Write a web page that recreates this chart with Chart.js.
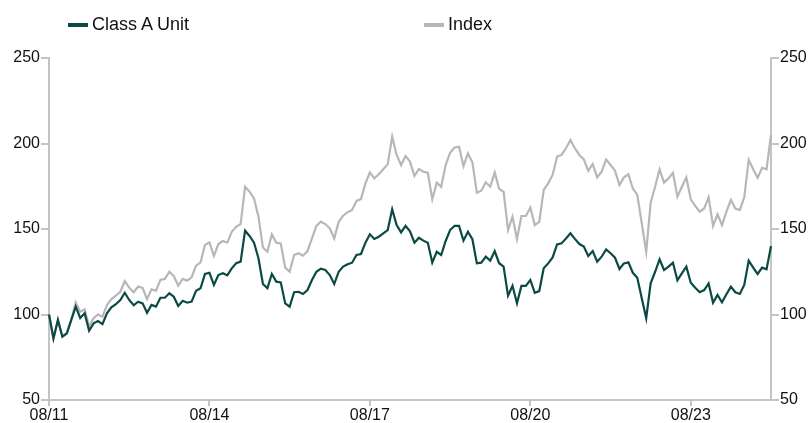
<!DOCTYPE html>
<html>
<head>
<meta charset="utf-8">
<script src="https://cdn.jsdelivr.net/npm/chart.js@4/dist/chart.umd.min.js"></script>
<style>
  html, body { margin: 0; padding: 0; background: #fff; }
  #wrap { position: relative; width: 808px; height: 423px; overflow: hidden; }
  #legend { position: absolute; top: 14px; left: 0; width: 808px; height: 26px;
            font-family: "Liberation Sans", Arial, sans-serif; font-size: 18px; color: #111; }
  .item { position: absolute; top: 0; display: flex; align-items: center; white-space: nowrap; }
  .swatch { display: inline-block; width: 20px; height: 4px; margin-right: 4px; }
</style>
</head>
<body>
<div id="wrap">
  <canvas id="c" width="808" height="423"></canvas>
  <div id="legend"></div>
</div>
<script>
const seriesNames = ['Class A Unit', 'Index'];
const seriesColors = ['#0b4a44', '#b7b7b7'];
const tickLabels = ['08/11', '08/14', '08/17', '08/20', '08/23'];
const startYear = 2011, startMonth = 8, monthCount = 163;

const classA = [
  100, 86, 96.8, 87, 89, 96.8, 104.6, 98, 100.7, 90.5,
  94.8, 96.2, 94.4, 100.7, 104.2, 106, 108.5, 112.7, 108.5, 105.4,
  107.5, 106.5, 101, 105.6, 104.6, 109.8, 109.8, 112.4, 110.4, 105,
  108, 106.9, 107.5, 113.9, 115.3, 123.7, 124.4, 117.3, 123.1, 124.1,
  122.9, 127, 130, 130.9, 149, 145.9, 142, 132.9, 117.8, 115.3,
  123.7, 119.2, 118.8, 106.5, 104.6, 113, 113.3, 112, 114.3, 120.2,
  125, 126.8, 126, 123.1, 117.8, 125, 128, 129.4, 130.3, 134.8,
  135.4, 142, 146.9, 144.2, 145.5, 147.5, 149.4, 161.5, 152.3, 148,
  151.8, 148.6, 142, 144.9, 143.2, 142, 130.3, 136.7, 134.8, 143,
  149.4, 151.8, 151.8, 143.2, 148.4, 144, 129.9, 130.3, 133.8, 131.5,
  137.1, 130, 128, 111, 116.8, 106.5, 116.7, 116.7, 120.2, 112.7,
  113.7, 127, 129.9, 133.4, 141, 141.6, 144.5, 147.5, 144.2, 141.2,
  139.7, 134.2, 137.1, 130.9, 133.8, 138.1, 135.8, 133.2, 126.6, 129.9,
  130.5, 124.4, 121.5, 109.5, 97.8, 118.2, 125, 132.3, 126, 128,
  130.3, 120, 124.1, 128, 118.6, 115.7, 113, 114.3, 118.2, 106.9,
  111.4, 107.1, 111.8, 116.3, 113, 112, 117.3, 131.5, 127.4, 123.7,
  127.4, 126.4, 140
];

const indexSeries = [
  100, 86, 96.8, 87, 89, 97, 107, 101.6, 103, 93,
  97.8, 100, 98.7, 105.6, 109, 111, 113.3, 119.6, 115.7, 113,
  116.3, 115.5, 109, 114.7, 113.9, 120.2, 120.8, 125, 122.5, 116.8,
  120.8, 119.8, 121.8, 128.6, 130.5, 140.6, 142.2, 134.2, 141.2, 143,
  142, 148.4, 151.3, 152.9, 174.7, 171.8, 167.9, 157.2, 139.2, 136.7,
  146.9, 142, 141.6, 127.4, 125, 134.8, 135.8, 134.4, 137.1, 144.5,
  151.8, 154.3, 152.9, 150.4, 144.5, 154.2, 157.8, 159.8, 161.1, 166.4,
  167.5, 176.7, 183.1, 179.6, 182, 184.9, 187.8, 204, 193.3, 187.4,
  192.7, 189.4, 181, 185.1, 183.5, 182.9, 167.5, 177.1, 174.7, 187.4,
  194.6, 197.7, 198.1, 186.8, 194.2, 189, 171.2, 172.4, 177.3, 174.7,
  183.1, 173.5, 171.8, 149.4, 157.2, 144, 157.6, 157.6, 162.6, 152.3,
  154.2, 172.8, 176.7, 181.6, 192.3, 193.3, 197.2, 202, 197.2, 193.3,
  190.7, 184, 188, 180.2, 183.5, 190.7, 187.4, 184.1, 175.7, 180.2,
  182, 173.7, 169.9, 153.3, 136.7, 165.4, 174.7, 184.9, 177.1, 179.6,
  182.9, 168.9, 174.7, 180.2, 167.3, 163.5, 160.1, 162, 168.5, 151.8,
  158.6, 152.3, 160.1, 167, 162, 161.1, 168.5, 190.4, 184.9, 180,
  185.8, 184.9, 205
];

// month categories MM/YY
const months = [];
for (let k = 0; k < monthCount; k++) {
  const m = (startMonth - 1 + k) % 12 + 1;
  const y = startYear + Math.floor((startMonth - 1 + k) / 12);
  months.push(String(m).padStart(2, '0') + '/' + String(y % 100).padStart(2, '0'));
}

const AXIS = '#c4c4c4';
const FONT = { family: '"Liberation Sans", Arial, sans-serif', size: 16 };

const yCommon = {
  min: 50, max: 250,
  ticks: { stepSize: 50, color: '#111', font: FONT, padding: 1 },
  grid: { drawOnChartArea: false, drawTicks: true, tickLength: 8, color: AXIS, lineWidth: 2 },
  border: { display: true, color: AXIS, width: 2 }
};

new Chart(document.getElementById('c'), {
  type: 'line',
  data: {
    labels: months,
    datasets: [
      { label: seriesNames[0], data: classA, borderColor: seriesColors[0], backgroundColor: seriesColors[0],
        borderWidth: 2.2, pointRadius: 0, tension: 0, yAxisID: 'y' },
      { label: seriesNames[1], data: indexSeries, borderColor: seriesColors[1], backgroundColor: seriesColors[1],
        borderWidth: 2.2, pointRadius: 0, tension: 0, yAxisID: 'y' }
    ]
  },
  options: {
    responsive: false,
    animation: false,
    layout: { padding: { top: 58, left: 0, right: 0, bottom: 0 } },
    plugins: { legend: { display: false }, tooltip: { enabled: false }, title: { display: false } },
    scales: {
      x: {
        offset: false,
        ticks: {
          autoSkip: false, maxRotation: 0, color: '#111', font: FONT, padding: 0,
          callback: function (v, i) { const l = months[i]; return tickLabels.includes(l) ? l : null; }
        },
        grid: { drawOnChartArea: false, drawTicks: true, tickLength: 6, color: AXIS, lineWidth: 2 },
        border: { display: true, color: AXIS, width: 2 },
        afterFit: function (s) { s.height = 23; }
      },
      y: Object.assign({}, yCommon, { position: 'left', afterFit: function (s) { s.width = 49; } }),
      y2: Object.assign({}, yCommon, { position: 'right', afterFit: function (s) { s.width = 37; } })
    }
  }
});

// HTML legend built from the series
const legendPos = [68, 424];
const lg = document.getElementById('legend');
seriesNames.forEach(function (name, i) {
  const it = document.createElement('div');
  it.className = 'item';
  it.style.left = legendPos[i] + 'px';
  const sw = document.createElement('span');
  sw.className = 'swatch';
  sw.style.background = seriesColors[i];
  const tx = document.createElement('span');
  tx.textContent = name;
  it.appendChild(sw); it.appendChild(tx);
  lg.appendChild(it);
});
</script>
</body>
</html>
